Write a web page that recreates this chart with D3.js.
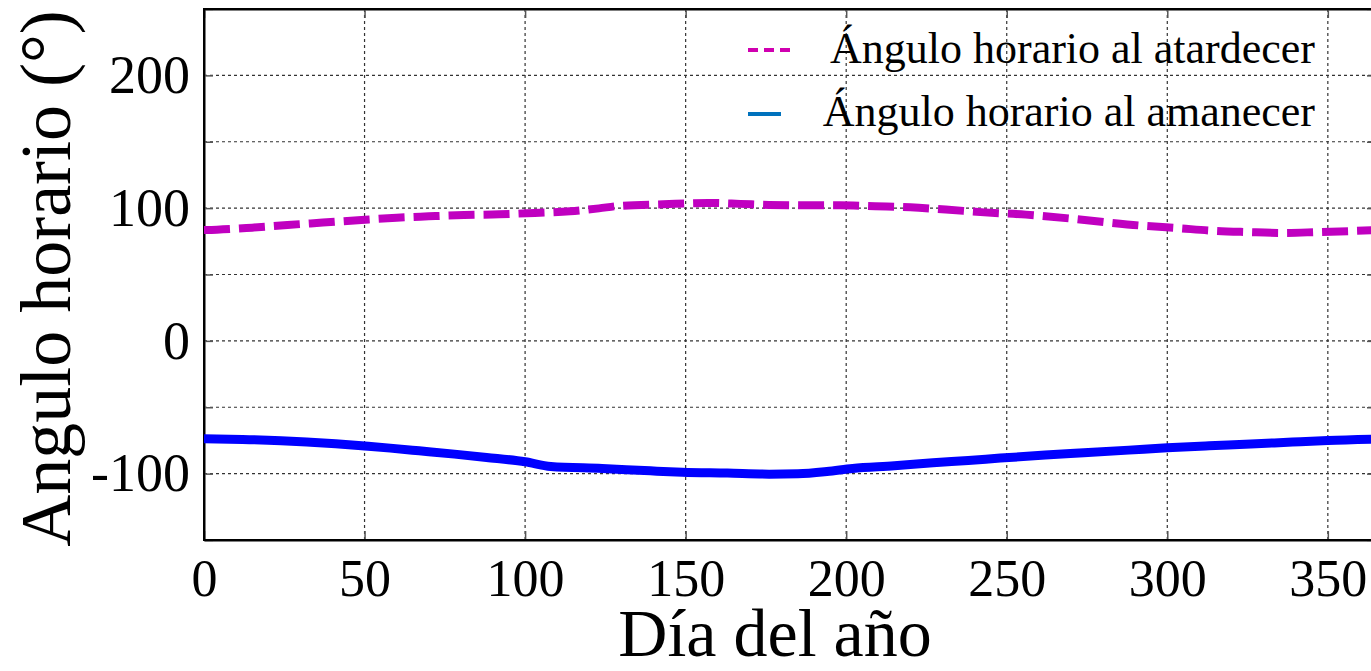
<!DOCTYPE html>
<html>
<head>
<meta charset="utf-8">
<script src="https://cdn.jsdelivr.net/npm/d3@7"></script>
<style>
  body { margin: 0; background: #fff; }
  text { font-family: "Liberation Serif", "Times New Roman", serif; fill: #000; }
</style>
</head>
<body>
<div id="chart"></div>
<script>
// ==== Data ====
const sunsetDays = [0, 4, 15, 26, 37, 49, 60, 70, 81, 92, 103, 114, 123, 129, 143, 157, 167, 176, 188, 198, 209, 220, 231, 243, 256, 270, 281, 292, 303, 314, 325, 336, 347, 358, 365];
const sunsetAngle = [83.6, 83.8, 85.3, 87.3, 89.1, 91.1, 92.8, 93.8, 94.8, 95.3, 96.4, 97.6, 99.8, 101.6, 102.9, 103.9, 103.2, 102.4, 102.1, 102.1, 101.4, 100.6, 98.9, 96.8, 95.1, 92.1, 89.3, 86.8, 85.0, 83.0, 82.0, 81.3, 82.0, 82.8, 83.4];

const sunriseDays = [0, 12, 24, 32, 41, 50, 58, 67, 78, 88, 100, 108, 124, 139, 149, 163, 176, 185, 194, 202, 215, 227, 238, 248, 262, 274, 288, 300, 313, 326, 339, 350, 365];
const sunriseAngle = [-73.7, -74.2, -75.2, -76.2, -77.5, -79.2, -80.8, -82.8, -85.3, -87.8, -91.1, -94.6, -96.1, -97.9, -98.9, -99.6, -100.4, -100.1, -98.4, -96.1, -94.1, -91.8, -90.1, -88.3, -86.0, -84.3, -82.3, -80.5, -79.0, -77.7, -76.2, -75.0, -74.0];

const xTicks = [0, 50, 100, 150, 200, 250, 300, 350];
const yTicks = [-100, 0, 100, 200];
const yGrid = [-150, -100, -50, 0, 50, 100, 150, 200, 250];

const legendLabels = ["Ángulo horario al atardecer", "Ángulo horario al amanecer"];

// ==== Chart ====
const W = 1371, H = 671;
const margin = { top: 9, right: -5, bottom: 131, left: 204 };
const width = W - margin.left - margin.right;
const height = H - margin.top - margin.bottom;

const svg = d3.select("#chart").append("svg")
    .attr("width", W)
    .attr("height", H);

const g = svg.append("g").attr("transform", `translate(${margin.left},${margin.top})`);

const x = d3.scaleLinear().domain([0, 365]).range([0, width]);
const y = d3.scaleLinear().domain([-150, 250]).range([height, 0]);

// grid
g.append("g")
    .selectAll("line")
    .data(xTicks.filter(d => d > 0))
    .enter().append("line")
    .attr("x1", d => x(d)).attr("x2", d => x(d))
    .attr("y1", 0).attr("y2", height)
    .attr("stroke", "#333").attr("stroke-width", 1.2)
    .attr("stroke-dasharray", "3,3");

g.append("g")
    .selectAll("line")
    .data(yGrid.filter(d => d > -150 && d < 250))
    .enter().append("line")
    .attr("x1", 0).attr("x2", width)
    .attr("y1", d => y(d)).attr("y2", d => y(d))
    .attr("stroke", "#333").attr("stroke-width", 1.2)
    .attr("stroke-dasharray", "3,3");

// axes (ticks inward)
const xAxis = g.append("g")
    .attr("transform", `translate(0,${height})`)
    .call(d3.axisBottom(x).tickValues(xTicks).tickSizeInner(-9).tickSizeOuter(0).tickPadding(19));
xAxis.selectAll("text").style("font-size", "52px").attr("dy", "0.71em");

g.append("g")
    .call(d3.axisTop(x).tickValues(xTicks).tickSizeInner(-9).tickSizeOuter(0).tickFormat(""));

const yAxis = g.append("g")
    .call(d3.axisLeft(y).tickValues(yGrid).tickSizeInner(-9).tickSizeOuter(0).tickPadding(14)
        .tickFormat(d => yTicks.includes(d) ? d : ""));
yAxis.selectAll("text").style("font-size", "54px");

g.append("g")
    .attr("transform", `translate(${width},0)`)
    .call(d3.axisRight(y).tickValues(yGrid).tickSizeInner(-9).tickSizeOuter(0).tickFormat(""));

g.selectAll(".domain").attr("stroke", "#000").attr("stroke-width", 2);
g.selectAll(".tick line").attr("stroke", "#555").attr("stroke-width", 1.5);

// frame
g.append("rect")
    .attr("width", width).attr("height", height)
    .attr("fill", "none").attr("stroke", "#000").attr("stroke-width", 2);

// lines
const sunset = sunsetDays.map((d, i) => ({ day: d, v: sunsetAngle[i] }));
const sunrise = sunriseDays.map((d, i) => ({ day: d, v: sunriseAngle[i] }));

const line = d3.line()
    .x(d => x(d.day))
    .y(d => y(d.v))
    .curve(d3.curveMonotoneX);

g.append("path")
    .datum(sunset)
    .attr("fill", "none")
    .attr("stroke", "#c000c0")
    .attr("stroke-width", 8)
    .attr("stroke-dasharray", "26,9")
    .attr("d", line);

g.append("path")
    .datum(sunrise)
    .attr("fill", "none")
    .attr("stroke", "#0000ff")
    .attr("stroke-width", 9)
    .attr("d", line);

// legend
const legend = svg.append("g");
legend.append("line")
    .attr("x1", 748).attr("x2", 792).attr("y1", 50).attr("y2", 50)
    .attr("stroke", "#d000b0").attr("stroke-width", 4)
    .attr("stroke-dasharray", "10,6");
legend.append("line")
    .attr("x1", 748).attr("x2", 781).attr("y1", 114).attr("y2", 114)
    .attr("stroke", "#0072bd").attr("stroke-width", 4);

legend.selectAll("text")
    .data(legendLabels)
    .enter().append("text")
    .attr("x", 1315)
    .attr("y", (d, i) => 63 + i * 63)
    .attr("text-anchor", "end")
    .style("font-size", "44px")
    .text(d => d);

// axis titles
svg.append("text")
    .attr("x", 775)
    .attr("y", 656)
    .attr("text-anchor", "middle")
    .style("font-size", "68px")
    .text("Día del año");

svg.append("text")
    .attr("transform", `translate(70,${margin.top + height / 2 + 4}) rotate(-90)`)
    .attr("text-anchor", "middle")
    .style("font-size", "72px")
    .text("Angulo horario (°)");
</script>
</body>
</html>
